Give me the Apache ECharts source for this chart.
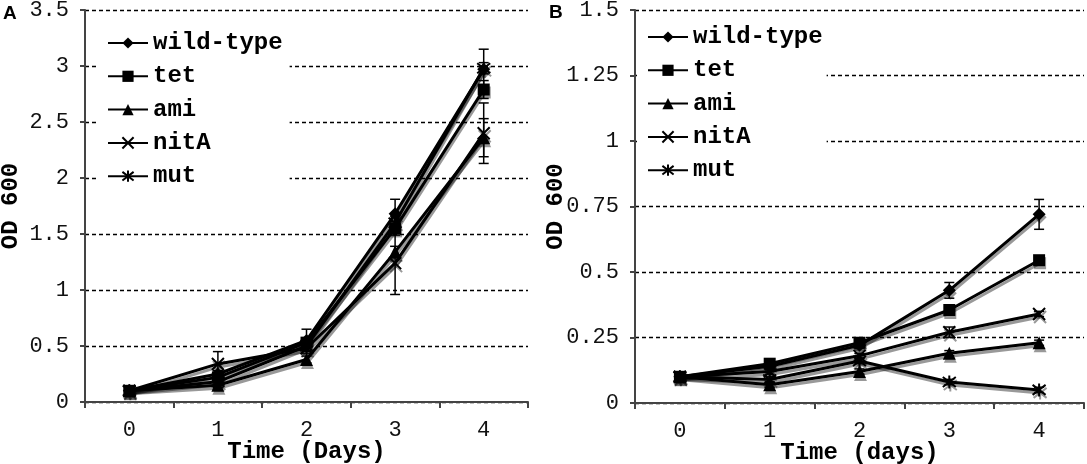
<!DOCTYPE html>
<html>
<head>
<meta charset="utf-8">
<script src="https://cdn.jsdelivr.net/npm/echarts@6/dist/echarts.min.js"></script>
<style>
html, body { margin: 0; padding: 0; background: #fff; }
#main { width: 1087px; height: 464px; }
</style>
</head>
<body>
<div id="main"></div>
<script>
// categories
var days = ['0', '1', '2', '3', '4'];
var names = ['wild-type', 'tet', 'ami', 'nitA', 'mut'];

// panel A values (OD 600)
var wildA = [0.1, 0.25, 0.55, 1.68, 2.97];
var tetA  = [0.1, 0.22, 0.53, 1.55, 2.79];
var amiA  = [0.1, 0.15, 0.38, 1.34, 2.36];
var nitAA = [0.1, 0.34, 0.48, 1.24, 2.40];
var mutA  = [0.1, 0.18, 0.50, 1.60, 2.98];
// panel A error bars (+/-)
var wildErrA = [0, 0.03, 0.10, 0.13, 0.18];
var tetErrA  = [0, 0.03, 0.04, 0.06, 0.08];
var amiErrA  = [0, 0.02, 0.03, 0.05, 0.17];
var nitAErrA = [0, 0.11, 0.05, 0.28, 0.27];
var mutErrA  = [0, 0.03, 0.04, 0.06, 0.05];

// panel B values (OD 600)
var wildB = [0.1, 0.14, 0.22, 0.43, 0.72];
var tetB  = [0.1, 0.15, 0.23, 0.355, 0.545];
var amiB  = [0.1, 0.07, 0.12, 0.19, 0.23];
var nitAB = [0.1, 0.12, 0.18, 0.27, 0.34];
var mutB  = [0.1, 0.09, 0.16, 0.08, 0.05];
// panel B error bars (+/-)
var wildErrB = [0, 0.01, 0.01, 0.03, 0.057];
var tetErrB  = [0, 0.01, 0.01, 0.01, 0.01];
var amiErrB  = [0, 0.01, 0.01, 0.01, 0.01];
var nitAErrB = [0, 0.01, 0.01, 0.02, 0.01];
var mutErrB  = [0, 0.01, 0.01, 0.01, 0.01];

var monoFont = '"Liberation Mono", "DejaVu Sans Mono", monospace';
var xPath = 'path://M0,0L10,10M10,0L0,10';
var starPath = 'path://M0,0L10,10M10,0L0,10M5,-1.5L5,11.5';
var symbols = ['diamond', 'rect', 'triangle', xPath, starPath];
var symSizes = [13, 12, 13, 12, 13];

var myChart = echarts.init(document.getElementById('main'));

function lineSeries(name, data, k, ax) {
    var open = k >= 3;
    return {
        type: 'line',
        name: name,
        data: data,
        xAxisIndex: ax,
        yAxisIndex: ax,
        symbol: symbols[k],
        symbolSize: symSizes[k],
        showAllSymbol: true,
        z: 3,
        lineStyle: {
            color: '#000', width: 3,
            shadowColor: 'rgba(0,0,0,0.4)', shadowOffsetX: 1, shadowOffsetY: 3
        },
        itemStyle: {
            color: open ? 'rgba(0,0,0,0)' : '#000',
            borderColor: '#000',
            borderWidth: open ? 2 : 0,
            shadowColor: 'rgba(0,0,0,0.4)', shadowOffsetX: 1, shadowOffsetY: 3
        },
        emphasis: { disabled: true },
        animation: false
    };
}

function errData(vals, errs) {
    var out = [];
    for (var i = 0; i < vals.length; i++) {
        if (errs[i] > 0) out.push([i, vals[i] - errs[i], vals[i] + errs[i]]);
    }
    return out;
}

function errRender(params, api) {
    var x = api.value(0);
    var lo = api.coord([x, api.value(1)]);
    var hi = api.coord([x, api.value(2)]);
    var w = 5;
    var st = { stroke: '#000', lineWidth: 1.5 };
    return {
        type: 'group',
        children: [
            { type: 'line', shape: { x1: lo[0], y1: lo[1], x2: hi[0], y2: hi[1] }, style: st },
            { type: 'line', shape: { x1: lo[0] - w, y1: lo[1], x2: lo[0] + w, y2: lo[1] }, style: st },
            { type: 'line', shape: { x1: hi[0] - w, y1: hi[1], x2: hi[0] + w, y2: hi[1] }, style: st }
        ]
    };
}

function errSeries(vals, errs, ax) {
    return {
        type: 'custom',
        xAxisIndex: ax,
        yAxisIndex: ax,
        data: errData(vals, errs),
        renderItem: errRender,
        z: 2,
        silent: true,
        animation: false
    };
}

function xAxisOf(gi, title) {
    return {
        type: 'category',
        gridIndex: gi,
        data: days,
        boundaryGap: true,
        name: title,
        nameLocation: 'middle',
        nameGap: 38,
        nameMoveOverlap: false,
        nameTextStyle: { fontFamily: monoFont, fontWeight: 'bold', fontSize: 24, color: '#000' },
        axisLine: { lineStyle: { color: '#444', width: 2 } },
        axisTick: { show: true, length: 6, lineStyle: { color: '#444', width: 2 } },
        axisLabel: { fontFamily: monoFont, fontSize: 22, color: '#111', margin: 17 },
        splitLine: { show: false }
    };
}

function yAxisOf(gi, max, step, gap) {
    return {
        type: 'value',
        gridIndex: gi,
        min: 0,
        max: max,
        interval: step,
        name: 'OD 600',
        nameLocation: 'middle',
        nameGap: gap,
        nameMoveOverlap: false,
        nameTextStyle: { fontFamily: monoFont, fontWeight: 'bold', fontSize: 24, color: '#000' },
        axisLine: { show: true, lineStyle: { color: '#444', width: 2 } },
        axisTick: { show: true, length: 5, lineStyle: { color: '#444', width: 2 } },
        axisLabel: { fontFamily: monoFont, fontSize: 22, color: '#111', margin: 16 },
        splitLine: { show: true, lineStyle: { color: '#000', width: 1.3, type: [4, 3] } }
    };
}

function legendOf(left, top, pad) {
    return {
        data: names,
        orient: 'vertical',
        left: left,
        top: top,
        itemWidth: 40,
        itemHeight: 14,
        itemGap: 9.3,
        padding: pad,
        backgroundColor: '#fff',
        selectedMode: false,
        textStyle: { fontFamily: monoFont, fontWeight: 'bold', fontSize: 24, color: '#000', lineHeight: 24 }
    };
}

var valuesA = [wildA, tetA, amiA, nitAA, mutA];
var errsA = [wildErrA, tetErrA, amiErrA, nitAErrA, mutErrA];
var valuesB = [wildB, tetB, amiB, nitAB, mutB];
var errsB = [wildErrB, tetErrB, amiErrB, nitAErrB, mutErrB];

var series = [];
for (var k = 0; k < names.length; k++) {
    series.push(errSeries(valuesA[k], errsA[k], 0));
    series.push(errSeries(valuesB[k], errsB[k], 1));
}
for (var k = 0; k < names.length; k++) {
    series.push(lineSeries(names[k], valuesA[k], k, 0));
    series.push(lineSeries(names[k], valuesB[k], k, 1));
}

var panelFont = { fontFamily: '"Liberation Sans", Arial, sans-serif', fontWeight: 'bold', fontSize: 19, color: '#000' };

var option = {
    backgroundColor: '#fff',
    animation: false,
    title: [
        { text: 'A', left: 3, top: 4, padding: 0, textStyle: panelFont },
        { text: 'B', left: 549, top: 3, padding: 0, textStyle: panelFont }
    ],
    grid: [
        { left: 85, top: 10, width: 443, height: 392, outerBoundsMode: 'none', containLabel: false },
        { left: 635, top: 10, width: 449, height: 393, outerBoundsMode: 'none', containLabel: false }
    ],
    xAxis: [xAxisOf(0, 'Time (Days)'), xAxisOf(1, 'Time (days)')],
    yAxis: [yAxisOf(0, 3.5, 0.5, 62), yAxisOf(1, 1.5, 0.25, 67)],
    legend: [legendOf(98, 25, [6, 7, 6, 9]), legendOf(637, 19, [6, 4, 6, 10])],
    series: series
};
myChart.setOption(option);
</script>
</body>
</html>
